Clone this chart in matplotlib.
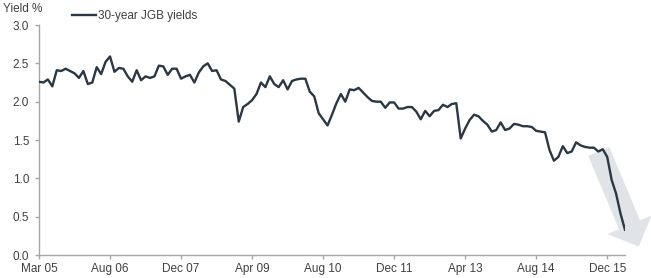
"""
Rendimento dos JGB de 30 anos (Mar 05 - Dez 15), com seta de queda no final.
"""

import matplotlib

matplotlib.use("Agg")
import matplotlib.pyplot as plt  # noqa: E402

# Valores (um ponto por mês, aprox.).
yields_30y = [
    2.26, 2.25, 2.29, 2.20, 2.41, 2.40, 2.43, 2.40, 2.37, 2.31,
    2.40, 2.23, 2.25, 2.45, 2.36, 2.52, 2.59, 2.39, 2.44, 2.43,
    2.33, 2.26, 2.41, 2.28, 2.33, 2.31, 2.33, 2.47, 2.46, 2.35,
    2.43, 2.43, 2.30, 2.33, 2.35, 2.25, 2.38, 2.46, 2.50, 2.40,
    2.41, 2.29, 2.27, 2.22, 2.17, 1.74, 1.93, 1.97, 2.02, 2.10,
    2.25, 2.19, 2.33, 2.23, 2.19, 2.28, 2.16, 2.27, 2.29, 2.30,
    2.30, 2.13, 2.07, 1.85, 1.77, 1.69, 1.83, 1.98, 2.10, 2.00,
    2.16, 2.15, 2.18, 2.12, 2.06, 2.01, 2.00, 2.00, 1.92, 1.99,
    1.99, 1.91, 1.91, 1.93, 1.93, 1.87, 1.77, 1.88, 1.81, 1.88,
    1.89, 1.96, 1.93, 1.97, 1.98, 1.52, 1.65, 1.76, 1.83, 1.81,
    1.75, 1.70, 1.61, 1.63, 1.73, 1.63, 1.65, 1.71, 1.70, 1.68,
    1.68, 1.67, 1.62, 1.61, 1.60, 1.37, 1.23, 1.28, 1.42, 1.33,
    1.35, 1.47, 1.43, 1.41, 1.40, 1.40, 1.35, 1.38, 1.28, 0.98,
    0.80, 0.54, 0.33,
]
posicoes = list(range(len(yields_30y)))

# Rótulos do eixo x (um a cada 16 pontos).
rotulos_x = ["Mar 05", "Aug 06", "Dec 07", "Apr 09", "Aug 10",
             "Dec 11", "Apr 13", "Aug 14", "Dec 15"]
ticks_x = [16 * i for i in range(len(rotulos_x))]
ticks_y = [0.0, 0.5, 1.0, 1.5, 2.0, 2.5, 3.0]

# Seta de tendência (início e ponta, em coordenadas de dados).
seta_inicio = (126.1, 1.35)
seta_ponta = (135.1, 0.11)

COR_LINHA = "#2b3742"
COR_SETA = "#e1e4e7"
COR_EIXO = "#a6a6a6"
COR_TEXTO = "#404040"
TAM_FONTE = 8.5

plt.rcParams["font.family"] = ["Liberation Sans", "DejaVu Sans"]

fig = plt.figure(figsize=(6.51, 2.78), dpi=100)
ax = fig.add_axes([0.0599, 0.0827, 0.9001, 0.8273])

# Seta cinza por trás da linha.
ax.annotate(
    "",
    xy=seta_ponta,
    xytext=seta_inicio,
    annotation_clip=False,
    arrowprops=dict(
        arrowstyle="simple,tail_width=1.65,head_width=3.45,head_length=1.7",
        mutation_scale=10,
        fc=COR_SETA,
        ec="none",
        shrinkA=0,
        shrinkB=0,
    ),
    zorder=1,
)

ax.plot(posicoes, yields_30y, color=COR_LINHA, linewidth=1.7,
        label="30-year JGB yields", zorder=3, solid_joinstyle="round")

ax.set_xlim(0, len(yields_30y) - 1)
ax.set_ylim(0, 3.0)
ax.set_xticks(ticks_x)
ax.set_xticklabels(rotulos_x)
ax.set_yticks(ticks_y)
ax.set_yticklabels([f"{v:.1f}" for v in ticks_y])

for lado in ("top", "right"):
    ax.spines[lado].set_visible(False)
for lado in ("left", "bottom"):
    ax.spines[lado].set_color(COR_EIXO)
    ax.spines[lado].set_linewidth(1.0)

ax.tick_params(axis="both", colors=COR_EIXO, labelcolor=COR_TEXTO,
               labelsize=TAM_FONTE, length=3, width=1.0, direction="out")
ax.tick_params(axis="x", pad=3)
ax.tick_params(axis="y", pad=4)

fig.text(3 / 651, 1 - 8.5 / 278, "Yield %", fontsize=TAM_FONTE,
         color=COR_TEXTO, ha="left", va="center")

ax.legend(
    loc="center left",
    bbox_to_anchor=(72 / 651, 1 - 16 / 278),
    bbox_transform=fig.transFigure,
    frameon=False,
    fontsize=TAM_FONTE,
    handlelength=2.0,
    handletextpad=0.2,
    borderpad=0,
    borderaxespad=0,
    labelcolor=COR_TEXTO,
)

fig.savefig("out.png", dpi=100)
plt.close(fig)
